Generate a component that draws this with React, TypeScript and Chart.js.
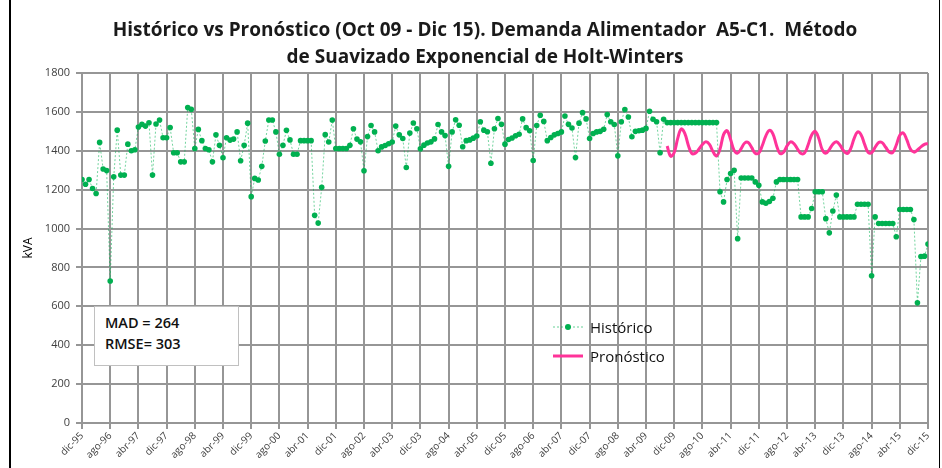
import React, { useEffect, useRef } from "react";
import { Chart, registerables } from "chart.js";

Chart.register(...registerables);

const tickLabels = [
  "dic-95", "ago-96", "abr-97", "dic-97", "ago-98", "abr-99", "dic-99", "ago-00",
  "abr-01", "dic-01", "ago-02", "abr-03", "dic-03", "ago-04", "abr-05", "dic-05",
  "ago-06", "abr-07", "dic-07", "ago-08", "abr-09", "dic-09", "ago-10", "abr-11",
  "dic-11", "ago-12", "abr-13", "dic-13", "ago-14", "abr-15", "dic-15",
];

// Monthly demand (kVA), dic-95 .. dic-15
const historico = [
  1252, 1228, 1252, 1206, 1180, 1443, 1306, 1298, 730, 1266,
  1506, 1275, 1275, 1434, 1400, 1405, 1522, 1536, 1527, 1544,
  1275, 1538, 1558, 1467, 1467, 1520, 1390, 1390, 1343, 1343,
  1622, 1613, 1412, 1510, 1452, 1412, 1405, 1343, 1482, 1428,
  1364, 1467, 1455, 1460, 1497, 1349, 1428, 1542, 1164, 1258,
  1250, 1320, 1450, 1558, 1558, 1497, 1382, 1428, 1505, 1456,
  1382, 1382, 1452, 1452, 1452, 1452, 1068, 1028, 1212, 1483,
  1445, 1558, 1412, 1412, 1412, 1412, 1428, 1513, 1460, 1446,
  1297, 1473, 1530, 1497, 1400, 1420, 1427, 1436, 1445, 1527,
  1482, 1463, 1314, 1491, 1543, 1513, 1410, 1429, 1440, 1446,
  1461, 1535, 1497, 1478, 1320, 1497, 1559, 1531, 1421, 1452,
  1456, 1465, 1476, 1549, 1506, 1498, 1336, 1513, 1566, 1536,
  1434, 1458, 1466, 1477, 1485, 1564, 1519, 1503, 1350, 1530,
  1583, 1551, 1452, 1468, 1482, 1489, 1497, 1579, 1536, 1517,
  1365, 1542, 1596, 1564, 1463, 1489, 1497, 1500, 1511, 1586,
  1549, 1535, 1374, 1549, 1612, 1574, 1472, 1500, 1503, 1506,
  1515, 1603, 1562, 1549, 1390, 1562, 1545, 1545, 1545, 1545,
  1545, 1545, 1545, 1545, 1545, 1545, 1545, 1545, 1545, 1545,
  1545, 1189, 1137, 1252, 1283, 1300, 948, 1260, 1260, 1260,
  1260, 1240, 1223, 1137, 1130, 1139, 1156, 1240, 1252, 1252,
  1252, 1252, 1252, 1252, 1060, 1060, 1060, 1103, 1189, 1189,
  1189, 1051, 978, 1090, 1172, 1060, 1060, 1060, 1060, 1060,
  1125, 1125, 1125, 1125, 757, 1060, 1026, 1026, 1026, 1026,
  1026, 958, 1098, 1098, 1098, 1098, 1046, 618, 856, 858,
  920,
];

// Holt-Winters forecast, oct-09 .. dic-15 (month index 166 .. 240)
const pronosticoStart = 166;
const pronostico = [
  1424, 1372, 1391, 1464, 1512, 1489, 1429, 1386, 1388, 1408,
  1432, 1446, 1433, 1396, 1373, 1409, 1483, 1503, 1458, 1402,
  1388, 1411, 1440, 1443, 1416, 1387, 1388, 1427, 1477, 1505,
  1487, 1429, 1386, 1392, 1425, 1446, 1436, 1409, 1386, 1389,
  1431, 1481, 1500, 1464, 1406, 1387, 1406, 1434, 1446, 1430,
  1402, 1386, 1408, 1461, 1497, 1483, 1434, 1392, 1390, 1418,
  1443, 1442, 1418, 1394, 1391, 1430, 1480, 1492, 1456, 1409,
  1393, 1404, 1420, 1433, 1438,
];

const FONT = "'Open Sans', 'Liberation Sans', sans-serif";
const GREEN = "#00b050";
const PINK = "#ff3399";
const GRID = "#969696";

export default function App() {
  const ref = useRef<HTMLCanvasElement>(null);

  useEffect(() => {
    const chart = new Chart(ref.current as HTMLCanvasElement, {
      type: "line",
      data: {
        datasets: [
          {
            label: "Histórico",
            data: historico.map((v, i) => ({ x: i, y: v })),
            borderColor: "rgba(0,176,80,0.55)",
            borderWidth: 1,
            borderDash: [2, 2],
            pointRadius: 2.8,
            pointBackgroundColor: GREEN,
            pointBorderColor: GREEN,
            pointBorderWidth: 0,
            tension: 0,
          },
          {
            label: "Pronóstico",
            data: pronostico.map((v, i) => ({ x: pronosticoStart + i, y: v })),
            borderColor: PINK,
            borderWidth: 3,
            pointRadius: 0,
            tension: 0.4,
          },
        ],
      },
      options: {
        responsive: false,
        animation: false,
        devicePixelRatio: 1,
        layout: { padding: { left: 0, top: 73, right: 14, bottom: 0 } },
        plugins: {
          legend: { display: false },
          title: { display: false },
          tooltip: { enabled: false },
        },
        scales: {
          x: {
            type: "linear",
            min: 0,
            max: 240,
            ticks: {
              stepSize: 8,
              autoSkip: false,
              maxRotation: 45,
              minRotation: 45,
              padding: 1,
              color: "#404040",
              font: { family: FONT, size: 10 },
              callback: (v: any) => tickLabels[Math.round(Number(v) / 8)],
            },
            grid: { color: GRID, lineWidth: 2, tickLength: 6 },
            border: { color: GRID, width: 2 },
            afterFit: (s: any) => {
              s.height = 45;
            },
          },
          y: {
            min: 0,
            max: 1800,
            ticks: {
              stepSize: 200,
              padding: 6,
              color: "#404040",
              font: { family: FONT, size: 11 },
              callback: (v: any) => String(v),
            },
            grid: { color: GRID, lineWidth: 2, tickLength: 6 },
            border: { color: GRID, width: 2 },
            title: {
              display: true,
              text: "kVA",
              color: "#000",
              font: { family: FONT, size: 12 },
              padding: { top: 21, bottom: 0 },
            },
            afterFit: (s: any) => {
              s.width = 82;
            },
          },
        },
      },
    });
    return () => chart.destroy();
  }, []);

  return (
    <div
      style={{
        position: "fixed",
        left: 0,
        top: 0,
        width: 942,
        height: 468,
        background: "#fff",
        fontFamily: FONT,
        overflow: "hidden",
      }}
    >
      <canvas ref={ref} width={942} height={468} style={{ position: "absolute", left: 0, top: 0 }} />
      <div style={{ position: "absolute", left: 9, top: 0, width: 928, height: 468, borderLeft: "2px solid #000", borderRight: "1px solid #000", pointerEvents: "none" }} />
      <div
        style={{
          position: "absolute",
          left: 14,
          top: 16,
          width: 942,
          textAlign: "center",
          fontWeight: 700,
          fontSize: 19,
          lineHeight: "27px",
          color: "#1a1a1a",
        }}
      >
        <div>Histórico vs Pronóstico (Oct 09 - Dic 15). Demanda Alimentador&nbsp; A5-C1.&nbsp; Método</div>
        <div>de Suavizado Exponencial de Holt-Winters</div>
      </div>
      <div
        style={{
          position: "absolute",
          left: 94,
          top: 306,
          width: 145,
          height: 60,
          background: "#fff",
          border: "1.5px solid #c0c0c0",
          boxSizing: "border-box",
          padding: "5px 0 0 10px",
          fontSize: 14.5,
          fontWeight: 600,
          lineHeight: "21px",
          color: "#111",
        }}
      >
        <div>MAD = 264</div>
        <div>RMSE= 303</div>
      </div>
      <div style={{ position: "absolute", left: 553, top: 317, fontSize: 15, color: "#111", lineHeight: "20px" }}>
        <div style={{ display: "flex", alignItems: "center", height: 20 }}>
          <svg width={32} height={20} style={{ marginRight: 5 }}>
            <line x1={0} y1={10} x2={30} y2={10} stroke="rgba(0,176,80,0.6)" strokeWidth={1} strokeDasharray="2 2" />
            <circle cx={15} cy={10} r={3} fill={GREEN} />
          </svg>
          <span>Histórico</span>
        </div>
        <div style={{ display: "flex", alignItems: "center", height: 20, marginTop: 9 }}>
          <svg width={32} height={20} style={{ marginRight: 5 }}>
            <line x1={0} y1={10} x2={30} y2={10} stroke={PINK} strokeWidth={3} />
          </svg>
          <span>Pronóstico</span>
        </div>
      </div>
    </div>
  );
}
